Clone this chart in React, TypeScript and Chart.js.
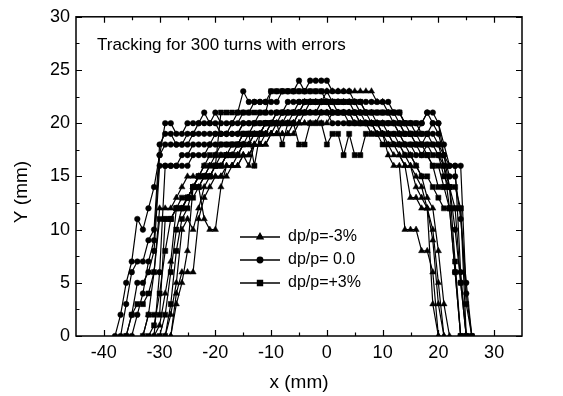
import React, { useEffect, useRef } from "react";
import { Chart, registerables } from "chart.js";
import { drawPoint } from "chart.js/helpers";

Chart.register(...registerables);

const _ = null;

// x grid (mm) shared by every series
const xGrid = [
  -38, -37, -36, -35, -34, -33, -32, -31, -30, -29, -28, -27, -26, -25, -24, -23, -22, -21, -20, -19, -18, -17, -16,
  -15, -14, -13, -12, -11, -10, -9, -8, -7, -6, -5, -4, -3, -2, -1, 0, 1, 2, 3, 4, 5, 6, 7, 8, 9, 10,
  11, 12, 13, 14, 15, 16, 17, 18, 19, 20, 21, 22, 23, 24, 25, 26,
];

// dp/p = -3% (triangles)
const tri1 = [
  _, _, _, _, _, _, _, _, _, _, 0, 3, 5, 8, 14, 14, 11, 10, 10, 14, 16, 16, 16,
  17, 17, 18, 18, 18, 19, 19, 19, 19, 19, 20, 20, 20, 20, 20, 20, 21, 21, 21, 21, 21, 20, 20, 20, 19, 19,
  17, 16, 16, 10, 10, 10, 8, 8, 6, 0, _, _, _, _, _, _,
];
const tri2 = [
  _, _, _, _, _, _, _, _, _, 0, 2, 5, 10, 11, 10, 12, 14, 15, 15, 15, 15, 16, 16,
  17, 17, 18, 18, 19, 19, 19, 20, 20, 20, 21, 21, 21, 21, 22, 22, 22, 22, 22, 22, 22, 21, 21, 21, 20, 20,
  19, 18, 18, 17, 16, 14, 13, 12, 10, 5, 0, _, _, _, _, _,
];
const tri3 = [
  _, _, _, _, _, 0, 2, 6, 12, 12, 12, 13, 14, 15, 15, 15, 16, 16, 17, 17, 17, 17, 17,
  18, 18, 19, 19, 19, 20, 20, 20, 21, 21, 21, 22, 22, 22, 22, 23, 23, 23, 23, 23, 23, 23, 23, 23, 22, 22,
  21, 20, 19, 18, 17, 16, 15, 13, 12, 8, 3, 0, _, _, _, _,
];
const tri4 = [
  _, _, _, _, _, _, _, 0, 1, 4, 7, 12, 12, 13, 14, 15, 15, 16, 16, 16, 17, 17, 17,
  18, 18, 18, 19, 19, 19, 20, 20, 20, 20, 20, 21, 21, 21, 21, 21, 21, 21, 21, 21, 20, 20, 20, 19, 19, 19,
  18, 17, 17, 16, 16, 15, 14, 12, 9, 3, 0, _, _, _, _, _,
];
const tri5 = [
  _, _, _, _, _, _, _, _, _, _, 0, 4, 6, 6, 6, 11, 13, 14, 15, 15, 16, 16, 17,
  17, 16, 18, 18, 18, 19, 19, 19, 19, 20, 20, 20, 20, 20, 21, 21, 21, 21, 21, 21, 20, 20, 20, 20, 20, 19,
  19, 18, 17, 16, 13, 13, 12, 12, 3, 0, _, _, _, _, _, _,
];

// dp/p = 0.0 (circles)
const circ1 = [
  0, 2, 5, 7, 11, 10, 12, 14, 17, 20, 20, 19, 19, 20, 20, 20, 21, 20, 21, 20, 20, 20, 21,
  23, 22, 22, 22, 22, 23, 23, 23, 23, 23, 24, 23, 24, 24, 24, 24, 23, 23, 23, 23, 22, 22, 22, 22, 22, 22,
  22, 21, 21, 20, 20, 20, 20, 21, 20, 19, 17, 16, 16, 6, 0, _,
];
const circ2 = [
  _, 0, 3, 6, 7, 7, 9, 10, 18, 19, 19, 18, 18, 19, 19, 20, 20, 20, 20, 19, 19, 20, 20,
  21, 21, 22, 22, 22, 22, 22, 23, 23, 23, 23, 23, 23, 23, 23, 23, 22, 22, 22, 22, 22, 22, 21, 21, 21, 21,
  21, 21, 20, 20, 20, 19, 20, 21, 21, 20, 18, 16, 16, 16, 4, 0,
];
const circ3 = [
  _, _, 0, 2, 5, 5, 6, 8, 16, 16, 16, 16, 17, 17, 18, 18, 18, 18, 19, 19, 19, 19, 19,
  20, 20, 20, 21, 21, 21, 21, 21, 22, 22, 22, 22, 22, 22, 22, 22, 21, 21, 21, 21, 21, 21, 21, 20, 20, 20,
  20, 20, 19, 19, 19, 18, 18, 19, 19, 18, 17, 14, 10, 5, 0, _,
];
const circ4 = [
  _, _, _, _, _, _, _, 0, 6, 16, 16, 16, 16, 16, 17, 17, 17, 18, 18, 18, 18, 18, 18,
  19, 19, 19, 19, 20, 20, 20, 20, 20, 20, 21, 21, 21, 21, 21, 21, 20, 20, 20, 20, 20, 20, 20, 20, 19, 19,
  19, 19, 18, 18, 18, 17, 17, 18, 18, 17, 16, 12, 6, 0, _, _,
];
const circ5 = [
  _, _, _, 0, 2, 4, 7, 9, 17, 18, 18, 18, 18, 18, 19, 19, 19, 19, 19, 19, 19, 19, 19,
  20, 20, 20, 20, 20, 20, 21, 21, 21, 21, 22, 22, 22, 22, 22, 22, 21, 21, 21, 21, 21, 21, 20, 20, 20, 20,
  20, 20, 20, 19, 19, 19, 19, 19, 20, 20, 17, 15, 15, 11, 5, 0,
];

// dp/p = +3% (squares)
const sq1 = [
  _, _, 0, 2, 3, 3, 4, 6, 11, 11, 11, 12, 12, 13, 13, 14, 15, 15, 16, 16, 17, 17, 18,
  19, 19, 16, 19, 19, 20, 20, 18, 20, 20, 18, 18, 20, 20, 20, 18, 19, 19, 17, 19, 17, 17, 19, 19, 19, 18,
  18, 18, 18, 17, 17, 16, 15, 15, 14, 13, 12, 12, 6, 0, _, _,
];
const sq2 = [
  _, _, _, _, _, 0, 2, 2, 2, 11, 11, 12, 12, 13, 14, 15, 15, 15, 16, 16, 17, 17, 17,
  18, 18, 19, 19, 20, 20, 21, 21, 21, 21, 21, 22, 22, 22, 22, 22, 22, 22, 22, 22, 21, 21, 21, 21, 21, 21,
  21, 21, 21, 20, 19, 19, 18, 17, 16, 14, 14, 12, 12, 5, 0, _,
];
const sq3 = [
  _, _, _, _, _, _, 0, 1, 4, 8, 11, 12, 13, 13, 14, 14, 15, 15, 16, 21, 21, 21, 21,
  21, 21, 21, 21, 21, 23, 23, 23, 23, 23, 23, 23, 23, 23, 23, 22, 22, 22, 22, 22, 22, 22, 21, 21, 21, 21,
  21, 21, 21, 20, 20, 20, 19, 19, 18, 18, 16, 14, 12, 12, 0, _,
];
const sq4 = [
  _, _, _, _, _, _, _, _, 0, 2, 6, 10, 12, 13, 14, 15, 15, 16, 16, 17, 17, 18, 18,
  18, 19, 19, 19, 20, 20, 20, 20, 20, 21, 21, 21, 21, 21, 21, 21, 21, 21, 21, 20, 20, 20, 20, 20, 20, 19,
  19, 19, 19, 18, 18, 18, 17, 17, 16, 16, 14, 14, 7, 0, _, _,
];
const sq5 = [
  _, _, _, _, _, _, _, _, _, 0, 3, 8, 11, 12, 14, 15, 16, 17, 17, 18, 18, 18, 18,
  19, 19, 20, 20, 20, 20, 20, 21, 21, 21, 21, 21, 22, 22, 22, 22, 22, 21, 21, 21, 21, 20, 20, 20, 20, 20,
  20, 20, 20, 19, 19, 18, 18, 18, 17, 17, 15, 14, 14, 12, 3, 0,
];

const groups = [
  { label: "dp/p=-3%", style: "triangle", radius: 3.6, series: [tri1, tri2, tri3, tri4, tri5] },
  { label: "dp/p= 0.0", style: "circle", radius: 2.8, series: [circ1, circ2, circ3, circ4, circ5] },
  { label: "dp/p=+3%", style: "rect", radius: 3.6, series: [sq1, sq2, sq3, sq4, sq5] },
];

const xMajorTicks = [-40, -30, -20, -10, 0, 10, 20, 30];
const xMinorTicks = [-35, -25, -15, -5, 5, 15, 25];
const yMajorTicks = [0, 5, 10, 15, 20, 25, 30];
const yMinorTicks = [2.5, 7.5, 12.5, 17.5, 22.5, 27.5];

const titleText = "Tracking for 300 turns with errors";
const xTitle = "x (mm)";
const yTitle = "Y (mm)";
const FONT = "'Liberation Sans', Arial, sans-serif";

const decor = {
  id: "decor",
  afterDraw(chart: any) {
    const { ctx, chartArea: a, scales } = chart;
    const xs = scales.x;
    const ys = scales.y;
    ctx.save();
    ctx.strokeStyle = "#000";
    ctx.fillStyle = "#000";
    ctx.lineWidth = 1.5;
    ctx.strokeRect(a.left, a.top, a.right - a.left, a.bottom - a.top);
    ctx.lineWidth = 1.2;
    const tick = (vals: number[], len: number, horiz: boolean) => {
      vals.forEach((v) => {
        ctx.beginPath();
        if (horiz) {
          const p = Math.round(xs.getPixelForValue(v)) + 0.5;
          ctx.moveTo(p, a.bottom);
          ctx.lineTo(p, a.bottom - len);
          ctx.moveTo(p, a.top);
          ctx.lineTo(p, a.top + len);
        } else {
          const p = Math.round(ys.getPixelForValue(v)) + 0.5;
          ctx.moveTo(a.left, p);
          ctx.lineTo(a.left + len, p);
          ctx.moveTo(a.right, p);
          ctx.lineTo(a.right - len, p);
        }
        ctx.stroke();
      });
    };
    tick(xMajorTicks, 6, true);
    tick(xMinorTicks, 3.5, true);
    tick(yMajorTicks, 6, false);
    tick(yMinorTicks, 3.5, false);

    // inner title
    ctx.font = `17px ${FONT}`;
    ctx.textAlign = "left";
    ctx.textBaseline = "middle";
    ctx.fillText(titleText, 97, 45);

    // axis titles
    ctx.font = `19px ${FONT}`;
    ctx.textAlign = "center";
    ctx.fillText(xTitle, (a.left + a.right) / 2, 383);
    ctx.save();
    ctx.translate(22, 192);
    ctx.rotate(-Math.PI / 2);
    ctx.fillText(yTitle, 0, 0);
    ctx.restore();

    // legend
    const rows = [237, 260, 283];
    groups.forEach((g, i) => {
      const y = rows[i];
      ctx.lineWidth = 1.3;
      ctx.beginPath();
      ctx.moveTo(240, y);
      ctx.lineTo(280, y);
      ctx.stroke();
      drawPoint(ctx, { pointStyle: g.style, radius: g.radius, rotation: 0, borderWidth: 1 } as any, 260, y);
      ctx.fill();
      ctx.font = `16px ${FONT}`;
      ctx.textAlign = "left";
      ctx.textBaseline = "middle";
      ctx.fillText(g.label, 288, y);
    });
    ctx.restore();
  },
};

export default function App() {
  const ref = useRef<HTMLCanvasElement>(null);
  useEffect(() => {
    if (!ref.current) return;
    const datasets: any[] = [];
    groups.forEach((g) => {
      g.series.forEach((s) => {
        const data = xGrid
          .map((x, i) => (s[i] === null ? null : { x, y: s[i] }))
          .filter((p) => p !== null);
        datasets.push({
          label: g.label,
          data,
          borderColor: "#000",
          backgroundColor: "#000",
          borderWidth: 1.2,
          pointStyle: g.style,
          pointRadius: g.radius,
          pointBackgroundColor: "#000",
          pointBorderColor: "#000",
          pointBorderWidth: 0.5,
          tension: 0,
          fill: false,
        });
      });
    });
    const chart = new Chart(ref.current, {
      type: "line",
      data: { datasets },
      options: {
        animation: false,
        responsive: false,
        devicePixelRatio: 1,
        layout: { padding: { left: 0, top: 13, right: 41, bottom: 0 } },
        plugins: { legend: { display: false }, tooltip: { enabled: false }, title: { display: false } },
        scales: {
          x: {
            type: "linear",
            min: -45,
            max: 35,
            ticks: {
              stepSize: 5,
              color: "#000",
              font: { family: FONT, size: 18 },
              padding: 6,
              maxRotation: 0,
              autoSkip: false,
              callback: (v: any) => (Math.round(Number(v)) % 10 === 0 ? String(v) : ""),
            },
            grid: { display: false, drawTicks: false },
            border: { display: false },
            afterFit: (s: any) => {
              s.height = 60;
            },
          },
          y: {
            min: 0,
            max: 30,
            ticks: {
              stepSize: 5,
              color: "#000",
              font: { family: FONT, size: 18 },
              padding: 6,
            },
            grid: { display: false, drawTicks: false },
            border: { display: false },
            afterFit: (s: any) => {
              s.width = 76;
            },
          },
        },
      },
      plugins: [decor],
    });
    return () => chart.destroy();
  }, []);
  return (
    <div style={{ position: "fixed", left: 0, top: 0, width: 563, height: 396, background: "#fff" }}>
      <canvas ref={ref} width={563} height={396} style={{ width: 563, height: 396 }} />
    </div>
  );
}
